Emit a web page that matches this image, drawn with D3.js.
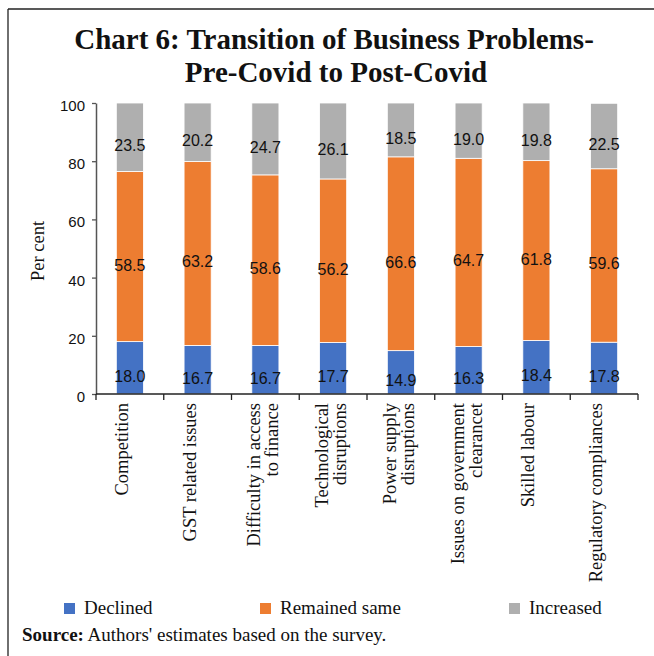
<!DOCTYPE html>
<html>
<head>
<meta charset="utf-8">
<script src="https://cdn.jsdelivr.net/npm/d3@7"></script>
<style>
  html, body { margin: 0; padding: 0; background: #fff; }
  svg { display: block; }
</style>
</head>
<body>
<svg id="chart" width="654" height="656"></svg>
<script>
// Business problems surveyed (x-axis categories, wrapped lines)
const categories = [
  ["Competition"],
  ["GST related issues"],
  ["Difficulty in access", "to finance"],
  ["Technological", "disruptions"],
  ["Power supply", "disruptions"],
  ["Issues on government", "clearancet"],
  ["Skilled labour"],
  ["Regulatory compliances"]
];

// Share of respondents (per cent) for each transition
const declined      = [18.0, 16.7, 16.7, 17.7, 14.9, 16.3, 18.4, 17.8];
const remainedSame  = [58.5, 63.2, 58.6, 56.2, 66.6, 64.7, 61.8, 59.6];
const increased     = [23.5, 20.2, 24.7, 26.1, 18.5, 19.0, 19.8, 22.5];

const seriesNames = ["Declined", "Remained same", "Increased"];
const seriesColors = ["#4472C4", "#ED7D31", "#AFAFAF"];
const yTicks = [0, 20, 40, 60, 80, 100];

const svg = d3.select("#chart");

// Frame lines (top and left)
svg.append("line").attr("x1", 8).attr("y1", 9).attr("x2", 654).attr("y2", 9)
  .attr("stroke", "#222").attr("stroke-width", 1.3);
svg.append("line").attr("x1", 8).attr("y1", 9).attr("x2", 8).attr("y2", 656)
  .attr("stroke", "#222").attr("stroke-width", 1.3);

// Title
const title = svg.append("text")
  .attr("text-anchor", "middle")
  .attr("font-family", "'Liberation Serif', serif")
  .attr("font-weight", "bold")
  .attr("font-size", 29)
  .attr("fill", "#111");
title.append("tspan").attr("x", 334).attr("y", 49).text("Chart 6: Transition of Business Problems-");
title.append("tspan").attr("x", 336).attr("y", 82).text("Pre-Covid to Post-Covid");

// Table rows built from the series arrays
const rows = categories.map((c, i) => ({
  key: i,
  "Declined": declined[i],
  "Remained same": remainedSame[i],
  "Increased": increased[i]
}));

const plot = { left: 96, right: 638, top: 103, bottom: 394 };

const x = d3.scaleBand()
  .domain(d3.range(categories.length))
  .range([plot.left, plot.right])
  .paddingInner(0.6)
  .paddingOuter(0.3);

const y = d3.scaleLinear()
  .domain([0, 100])
  .range([plot.bottom, plot.top]);

const stack = d3.stack().keys(seriesNames);
const stacked = stack(rows);

// Stacked bars
const layers = svg.append("g").selectAll("g")
  .data(stacked)
  .join("g")
  .attr("fill", (d, i) => seriesColors[i]);

layers.selectAll("rect")
  .data(d => d)
  .join("rect")
  .attr("x", d => x(d.data.key))
  .attr("width", x.bandwidth())
  .attr("y", d => y(Math.min(d[1], 100)))
  .attr("height", d => y(d[0]) - y(Math.min(d[1], 100)))
  .attr("stroke", "#fff")
  .attr("stroke-width", 0.8);

// Value labels inside each segment
layers.selectAll("text")
  .data((layer) => layer.map(d => ({ seg: d, key: layer.key })))
  .join("text")
  .attr("x", d => x(d.seg.data.key) + x.bandwidth() / 2)
  .attr("y", d => (y(d.seg[0]) + y(Math.min(d.seg[1], 100))) / 2 + 14)
  .attr("text-anchor", "middle")
  .attr("font-family", "'Liberation Sans', Arial, sans-serif")
  .attr("font-size", 16)
  .attr("fill", "#111")
  .text(d => d.seg.data[d.key].toFixed(1));

// Y axis
const yAxis = svg.append("g")
  .attr("transform", `translate(${plot.left},0)`)
  .call(d3.axisLeft(y).tickValues(yTicks).tickSize(4).tickPadding(7).tickSizeOuter(0));
yAxis.select(".domain").attr("stroke", "#555").attr("stroke-width", 1.5);
yAxis.selectAll(".tick line").attr("stroke", "#555").attr("stroke-width", 1.3);
yAxis.selectAll(".tick text")
  .attr("font-family", "'Liberation Sans', Arial, sans-serif")
  .attr("font-size", 15)
  .attr("fill", "#111")
  .attr("dy", "0.5em");

// X axis with tick marks at category boundaries
const xAxis = svg.append("g").attr("transform", `translate(0,${plot.bottom})`);
xAxis.append("line")
  .attr("x1", plot.left).attr("x2", plot.right)
  .attr("stroke", "#222").attr("stroke-width", 1.3);
xAxis.selectAll("line.tk")
  .data(d3.range(categories.length + 1))
  .join("line")
  .attr("class", "tk")
  .attr("x1", i => plot.left + x.step() * i)
  .attr("x2", i => plot.left + x.step() * i)
  .attr("y1", 0).attr("y2", 6)
  .attr("stroke", "#222").attr("stroke-width", 1.3);

// Rotated category labels
const catLabels = svg.append("g").selectAll("text")
  .data(categories)
  .join("text")
  .attr("transform", (d, i) => `translate(${x(i) + x.bandwidth() / 2},${plot.bottom + 9}) rotate(-90)`)
  .attr("text-anchor", "end")
  .attr("font-family", "'Liberation Serif', serif")
  .attr("font-size", 18.5)
  .attr("fill", "#111");
catLabels.each(function (lines) {
  const t = d3.select(this);
  const offs = lines.length === 1 ? [-2] : [-5, 13];
  lines.forEach((ln, j) => {
    t.append("tspan").attr("x", 0).attr("y", offs[j]).text(ln);
  });
});

// Y axis title
svg.append("text")
  .attr("transform", "translate(44,251) rotate(-90)")
  .attr("text-anchor", "middle")
  .attr("font-family", "'Liberation Serif', serif")
  .attr("font-size", 18.5)
  .attr("fill", "#111")
  .text("Per cent");

// Legend
const legendX = [64, 260, 509];
const legend = svg.append("g").selectAll("g")
  .data(seriesNames)
  .join("g")
  .attr("transform", (d, i) => `translate(${legendX[i]},603)`);
legend.append("rect")
  .attr("width", 11).attr("height", 11)
  .attr("fill", (d, i) => seriesColors[i]);
legend.append("text")
  .attr("x", 20).attr("y", 11)
  .attr("font-family", "'Liberation Serif', serif")
  .attr("font-size", 19)
  .attr("fill", "#111")
  .text(d => d);

// Source note
const src = svg.append("text")
  .attr("x", 22).attr("y", 641)
  .attr("font-family", "'Liberation Serif', serif")
  .attr("font-size", 19)
  .attr("fill", "#111");
src.append("tspan").attr("font-weight", "bold").text("Source:");
src.append("tspan").text(" Authors' estimates based on the survey.");
</script>
</body>
</html>
